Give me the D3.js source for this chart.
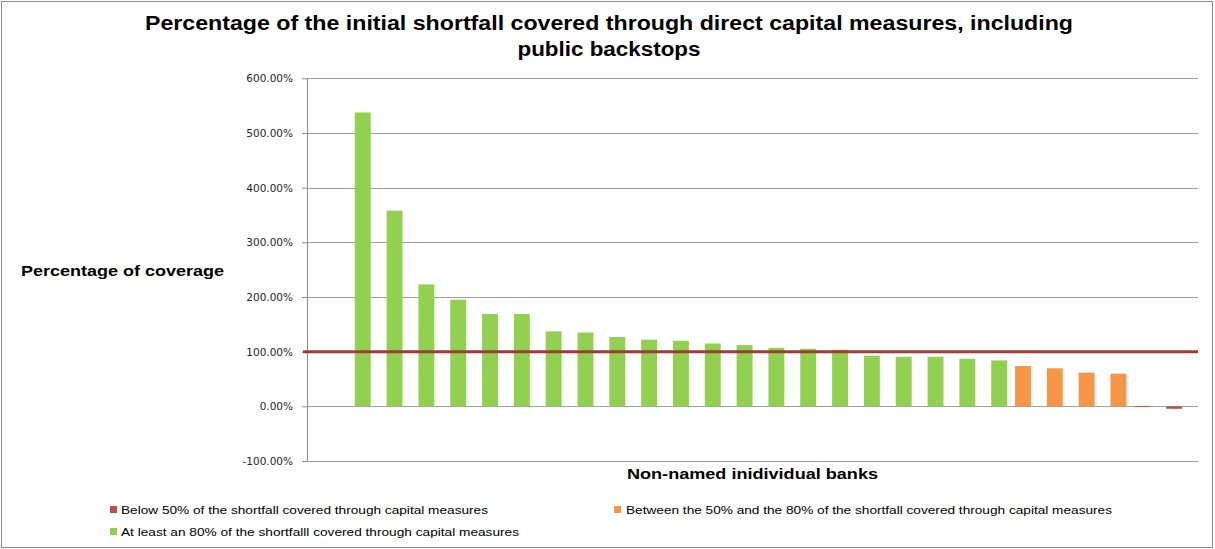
<!DOCTYPE html>
<html>
<head>
<meta charset="utf-8">
<script src="https://cdn.jsdelivr.net/npm/d3@7"></script>
<style>
  html, body { margin: 0; padding: 0; background: #fff; }
  svg { display: block; }
</style>
</head>
<body>
<svg id="chart" width="1215" height="549"></svg>
<script>
// ---------- data ----------
const categories = ["", "1","2","3","4","5","6","7","8","9","10","11","12","13","14","15","16","17","18","19","20","21","22","23","24","25","26","27"];
const seriesNames = [
  "Below 50% of the shortfall covered through capital measures",
  "Between the 50% and the 80% of the shortfall covered through capital measures",
  "At least an 80% of the shortfalll covered through capital measures"
];
const seriesColors = ["#C0504D", "#F79646", "#92D050"];
// values in %, null where a bank is not in that group
const below50 = [null, null,null,null,null,null,null,null,null,null,null,null,null,null,null,null,null,null,null,null,null,null, null,null,null,null, 0.5, -4.5];
const between50and80 = [null, null,null,null,null,null,null,null,null,null,null,null,null,null,null,null,null,null,null,null,null,null, 73.7, 69.5, 61.6, 59.8, null, null];
const atLeast80 = [null, 537.5, 358, 223, 195, 168.8, 168.8, 137, 135, 126.8, 121.9, 120, 115, 112, 107, 105.4, 103.6, 92.6, 90.8, 90.8, 87.1, 84, null,null,null,null, null, null];
const referenceLevel = 100;
const yTicks = [-100, 0, 100, 200, 300, 400, 500, 600];
const titleLines = ["Percentage of the initial shortfall covered through direct capital measures, including", "public backstops"];
const yTitle = "Percentage of coverage";
const xTitle = "Non-named inidividual banks";

// ---------- layout ----------
const svg = d3.select("#chart");
const plot = { left: 307, right: 1198, top: 78.3, bottom: 461 };
const font = "'Liberation Sans', Arial, sans-serif";

svg.append("rect").attr("x", 1.5).attr("y", 1.5).attr("width", 1211).attr("height", 546)
  .attr("fill", "#fff").attr("stroke", "#8c8c8c").attr("stroke-width", 1);

const x = d3.scaleBand().domain(categories).range([plot.left, plot.right]).paddingInner(0).paddingOuter(0);
const y = d3.scaleLinear().domain([-100, 600]).range([plot.bottom, plot.top]);
const seriesOffset = d3.scalePoint().domain([0, 1, 2]).range([-8, 8]);
const barWidth = x.bandwidth() * 0.5;

// gridlines + y axis
const yAxis = d3.axisLeft(y).tickValues(yTicks).tickSize(5).tickPadding(9)
  .tickFormat(d => d.toFixed(2) + "%");
const gAxis = svg.append("g").attr("transform", `translate(${plot.left},0)`).call(yAxis);
gAxis.select(".domain").remove();
gAxis.selectAll(".tick line").attr("stroke", "#8c8c8c");
gAxis.selectAll(".tick text").attr("font-family", "'DejaVu Sans', Verdana, sans-serif")
  .attr("font-size", 10.5).attr("fill", "#262626");

svg.append("g").selectAll("line").data(yTicks).join("line")
  .attr("x1", plot.left).attr("x2", plot.right)
  .attr("y1", d => Math.round(y(d)) + 0.5).attr("y2", d => Math.round(y(d)) + 0.5)
  .attr("stroke", "#a0a0a0").attr("stroke-width", 1);

svg.append("line").attr("x1", plot.left + 0.5).attr("x2", plot.left + 0.5)
  .attr("y1", plot.top).attr("y2", plot.bottom + 0.5)
  .attr("stroke", "#8c8c8c");

// bars
const allSeries = [below50, between50and80, atLeast80];
allSeries.forEach((vals, si) => {
  const data = categories.map((c, i) => ({ c, v: vals[i] })).filter(d => d.v !== null);
  svg.append("g").selectAll("rect").data(data).join("rect")
    .attr("x", d => x(d.c) + x.bandwidth() / 2 + seriesOffset(si) - barWidth / 2)
    .attr("width", barWidth)
    .attr("y", d => Math.min(y(d.v), y(0)))
    .attr("height", d => Math.max(Math.abs(y(d.v) - y(0)), 1))
    .attr("fill", seriesColors[si]);
});

// reference line at 100%
svg.append("line").attr("x1", plot.left - 4).attr("x2", plot.right)
  .attr("y1", y(referenceLevel)).attr("y2", y(referenceLevel))
  .attr("stroke", "#9E3B37").attr("stroke-width", 3);

// titles
svg.append("text").attr("x", 609).attr("y", 30).attr("text-anchor", "middle")
  .attr("font-family", font).attr("font-weight", "bold").attr("font-size", 20).attr("fill", "#000")
  .attr("textLength", 928).attr("lengthAdjust", "spacingAndGlyphs").text(titleLines[0]);
svg.append("text").attr("x", 609).attr("y", 56).attr("text-anchor", "middle")
  .attr("font-family", font).attr("font-weight", "bold").attr("font-size", 20).attr("fill", "#000")
  .attr("textLength", 183).attr("lengthAdjust", "spacingAndGlyphs").text(titleLines[1]);

svg.append("text").attr("x", 21).attr("y", 276)
  .attr("font-family", font).attr("font-weight", "bold").attr("font-size", 15).attr("fill", "#000")
  .attr("textLength", 203).attr("lengthAdjust", "spacingAndGlyphs").text(yTitle);
svg.append("text").attr("x", 627).attr("y", 479)
  .attr("font-family", font).attr("font-weight", "bold").attr("font-size", 15).attr("fill", "#000")
  .attr("textLength", 251).attr("lengthAdjust", "spacingAndGlyphs").text(xTitle);

// legend
const legendPos = [
  { sx: 110, tx: 121, y: 510, w: 367 },
  { sx: 614, tx: 626, y: 510, w: 486 },
  { sx: 110, tx: 121, y: 532, w: 398 }
];
seriesNames.forEach((name, i) => {
  const p = legendPos[i];
  svg.append("rect").attr("x", p.sx).attr("y", p.y - 4).attr("width", 7).attr("height", 7)
    .attr("fill", seriesColors[i]);
  svg.append("text").attr("x", p.tx).attr("y", p.y + 4)
    .attr("font-family", font).attr("font-size", 11.5).attr("fill", "#000")
    .attr("textLength", p.w).attr("lengthAdjust", "spacingAndGlyphs").text(name);
});
</script>
</body>
</html>
